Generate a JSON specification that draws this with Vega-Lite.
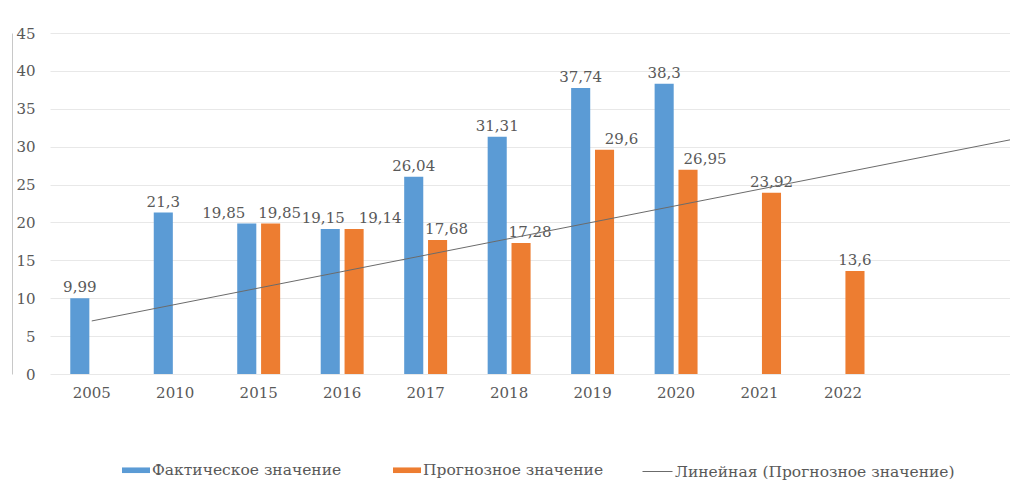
{
  "$schema": "https://vega.github.io/schema/vega-lite/v6.json",
  "width": 960,
  "height": 341,
  "autosize": {"type": "none"},
  "padding": {"left": 50, "top": 33, "right": 0, "bottom": 113},
  "background": "white",
  "config": {
    "locale": {"number": {"decimal": ",", "thousands": " ", "grouping": [3], "currency": ["", ""]}},
    "view": {"stroke": null},
    "font": "DejaVu Serif",
    "axisX": {
      "domain": false,
      "ticks": false,
      "tickSize": 0,
      "labelPadding": 11,
      "labelFontSize": 15,
      "labelColor": "#595959",
      "labelFont": "DejaVu Serif",
      "labelAngle": 0,
      "grid": false
    },
    "legend": {
      "labelFont": "DejaVu Serif",
      "labelFontSize": 15.5,
      "labelColor": "#595959",
      "labelLimit": 0
    }
  },
  "datasets": {
    "bars": [
      {"year": "2005", "series": "Фактическое значение", "value": 9.99},
      {"year": "2010", "series": "Фактическое значение", "value": 21.3},
      {"year": "2015", "series": "Фактическое значение", "value": 19.85},
      {"year": "2016", "series": "Фактическое значение", "value": 19.15},
      {"year": "2017", "series": "Фактическое значение", "value": 26.04},
      {"year": "2018", "series": "Фактическое значение", "value": 31.31},
      {"year": "2019", "series": "Фактическое значение", "value": 37.74},
      {"year": "2020", "series": "Фактическое значение", "value": 38.3},
      {"year": "2015", "series": "Прогнозное значение", "value": 19.85},
      {"year": "2016", "series": "Прогнозное значение", "value": 19.14},
      {"year": "2017", "series": "Прогнозное значение", "value": 17.68},
      {"year": "2018", "series": "Прогнозное значение", "value": 17.28},
      {"year": "2019", "series": "Прогнозное значение", "value": 29.6},
      {"year": "2020", "series": "Прогнозное значение", "value": 26.95},
      {"year": "2021", "series": "Прогнозное значение", "value": 23.92},
      {"year": "2022", "series": "Прогнозное значение", "value": 13.6}
    ],
    "trend": [
      {"t": 0, "v": 7.0},
      {"t": 11, "v": 30.9}
    ]
  },
  "layer": [
    {
      "data": {"name": "bars"},
      "encoding": {
        "x": {
          "field": "year",
          "type": "nominal",
          "sort": null,
          "title": null,
          "scale": {
            "domain": ["2005", "2010", "2015", "2016", "2017", "2018", "2019", "2020", "2021", "2022"],
            "paddingInner": 0,
            "paddingOuter": 0.75,
            "align": 0
          }
        },
        "xOffset": {
          "field": "series",
          "type": "nominal",
          "scale": {
            "domain": ["Фактическое значение", "Прогнозное значение"],
            "paddingInner": 0.2,
            "paddingOuter": 0.85
          }
        },
        "y": {
          "field": "value",
          "type": "quantitative",
          "scale": {"domain": [0, 45]},
          "axis": {
            "title": null,
            "orient": "left",
            "grid": false,
            "offset": 38,
            "domain": true,
            "domainColor": "#c8c8c8",
            "ticks": false,
            "tickSize": 0,
            "labelPadding": -23,
            "labelFontSize": 15,
            "labelColor": "#595959",
            "labelFont": "DejaVu Serif",
            "values": [0, 5, 10, 15, 20, 25, 30, 35, 40, 45]
          }
        }
      },
      "layer": [
        {
          "mark": {"type": "bar"},
          "encoding": {
            "color": {
              "field": "series",
              "type": "nominal",
              "scale": {
                "domain": ["Фактическое значение", "Прогнозное значение"],
                "range": ["#5b9bd5", "#ed7d31"]
              },
              "legend": {
                "title": null,
                "orient": "none",
                "direction": "horizontal",
                "columns": 2,
                "legendX": 72,
                "legendY": 423,
                "symbolType": "M-1,-0.2H1V0.2H-1Z",
                "symbolSize": 784,
                "symbolStrokeWidth": 0,
                "columnPadding": 51,
                "labelOffset": 2
              }
            }
          }
        },
        {
          "transform": [{"filter": {"not": {"field": "year", "oneOf": ["2015", "2016", "2017", "2018", "2019", "2020"]}}}],
          "mark": {"type": "text", "baseline": "alphabetic", "dy": -6, "fontSize": 15, "color": "#595959", "font": "DejaVu Serif"},
          "encoding": {"text": {"field": "value", "type": "quantitative", "format": "~g"}}
        },
        {
          "transform": [{"filter": {"and": [{"field": "series", "equal": "Фактическое значение"}, {"field": "year", "oneOf": ["2017", "2018", "2019", "2020"]}]}}],
          "mark": {"type": "text", "baseline": "alphabetic", "dy": -6, "fontSize": 15, "color": "#595959", "font": "DejaVu Serif"},
          "encoding": {"text": {"field": "value", "type": "quantitative", "format": "~g"}}
        },
        {
          "transform": [{"filter": {"and": [{"field": "series", "equal": "Фактическое значение"}, {"field": "year", "equal": "2015"}]}}],
          "mark": {"type": "text", "baseline": "alphabetic", "dy": -6, "dx": -23, "fontSize": 15, "color": "#595959", "font": "DejaVu Serif"},
          "encoding": {"text": {"field": "value", "type": "quantitative", "format": "~g"}}
        },
        {
          "transform": [{"filter": {"and": [{"field": "series", "equal": "Фактическое значение"}, {"field": "year", "equal": "2016"}]}}],
          "mark": {"type": "text", "baseline": "alphabetic", "dy": -6, "dx": -7, "fontSize": 15, "color": "#595959", "font": "DejaVu Serif"},
          "encoding": {"text": {"field": "value", "type": "quantitative", "format": "~g"}}
        },
        {
          "transform": [{"filter": {"and": [{"field": "series", "equal": "Прогнозное значение"}, {"field": "year", "oneOf": ["2015", "2017", "2018"]}]}}],
          "mark": {"type": "text", "baseline": "alphabetic", "dy": -6, "dx": 9, "fontSize": 15, "color": "#595959", "font": "DejaVu Serif"},
          "encoding": {"text": {"field": "value", "type": "quantitative", "format": "~g"}}
        },
        {
          "transform": [{"filter": {"and": [{"field": "series", "equal": "Прогнозное значение"}, {"field": "year", "oneOf": ["2019", "2020"]}]}}],
          "mark": {"type": "text", "baseline": "alphabetic", "dy": -6, "dx": 17, "fontSize": 15, "color": "#595959", "font": "DejaVu Serif"},
          "encoding": {"text": {"field": "value", "type": "quantitative", "format": "~g"}}
        },
        {
          "transform": [{"filter": {"and": [{"field": "series", "equal": "Прогнозное значение"}, {"field": "year", "equal": "2016"}]}}],
          "mark": {"type": "text", "baseline": "alphabetic", "dy": -6, "dx": 26, "fontSize": 15, "color": "#595959", "font": "DejaVu Serif"},
          "encoding": {"text": {"field": "value", "type": "quantitative", "format": "~g"}}
        }
      ]
    },
    {
      "data": {"name": "trend"},
      "mark": {"type": "line", "strokeWidth": 1},
      "encoding": {
        "x": {
          "field": "t",
          "type": "quantitative",
          "axis": null,
          "scale": {"domain": [-0.5, 11], "nice": false, "zero": false}
        },
        "y": {
          "field": "v",
          "type": "quantitative",
          "scale": {"domain": [0, 45]},
          "axis": {
            "title": null,
            "orient": "left",
            "grid": true,
            "gridColor": "#e8e8e8",
            "labels": false,
            "domain": false,
            "ticks": false,
            "values": [0, 5, 10, 15, 20, 25, 30, 35, 40, 45]
          }
        },
        "stroke": {
          "datum": "Линейная (Прогнозное значение)",
          "type": "nominal",
          "scale": {"range": ["#6b6b6b"]},
          "legend": {
            "title": null,
            "orient": "none",
            "legendX": 592,
            "legendY": 423,
            "symbolType": "stroke",
            "symbolSize": 900,
            "symbolStrokeWidth": 1,
            "labelOffset": 2
          }
        }
      }
    }
  ],
  "resolve": {"scale": {"x": "independent"}, "axis": {"y": "independent"}}
}
